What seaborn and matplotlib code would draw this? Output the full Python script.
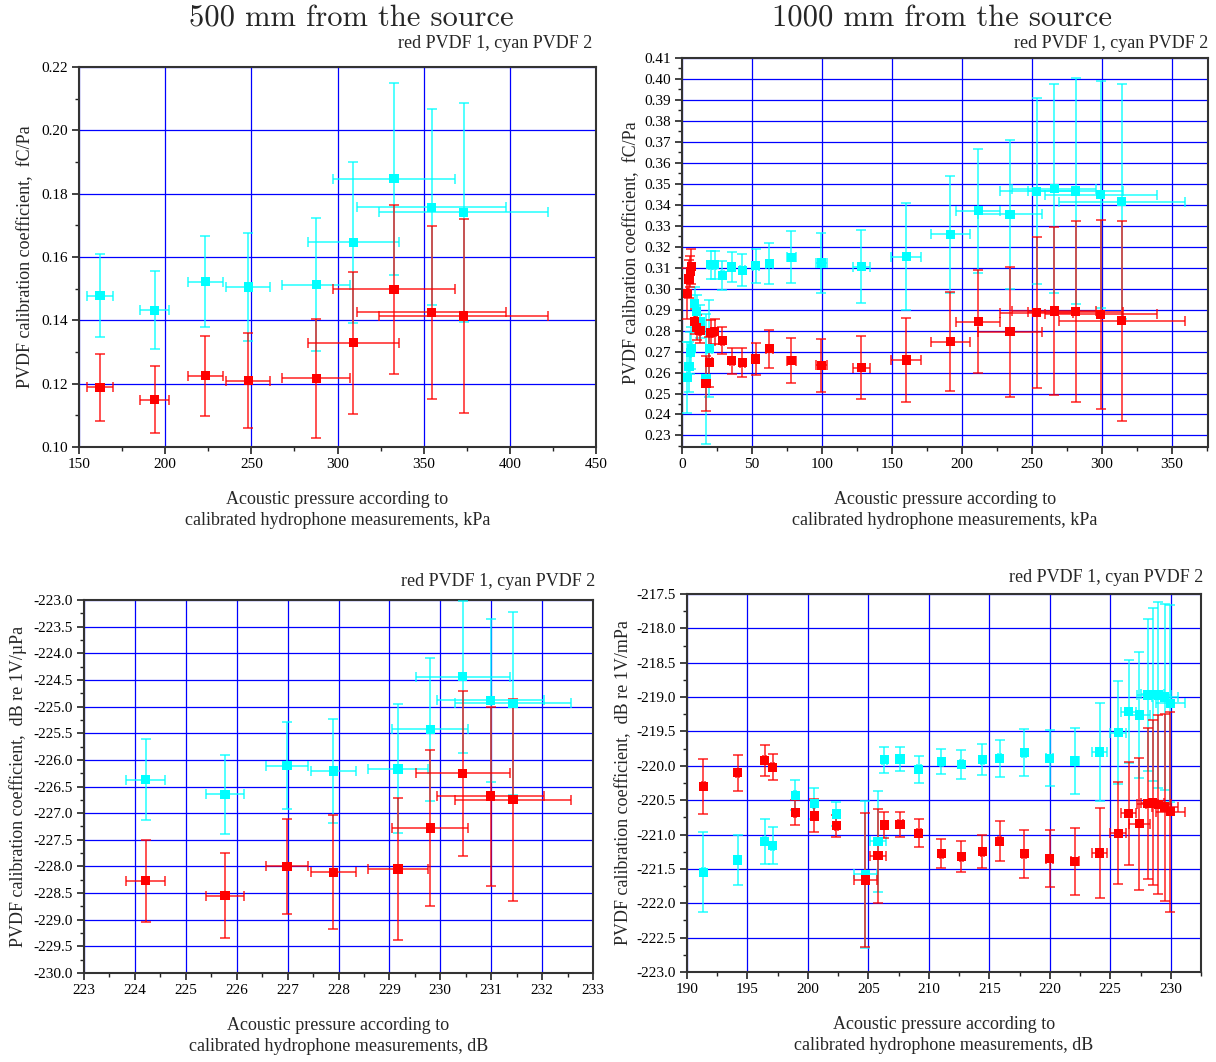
import matplotlib
matplotlib.use("Agg")
import matplotlib.pyplot as plt
from matplotlib.ticker import MultipleLocator, FormatStrFormatter
import seaborn as sns

# ---- 500 mm from the source, kPa / fC/Pa ----
p500_kpa = [162.2, 194.0, 223.4, 248.2, 287.6, 309.2, 332.8, 354.6, 373.2]
p500_kpa_err = [7.4, 8.5, 10.4, 12.8, 19.6, 26.5, 35.2, 43.3, 49.2]
red500 = [0.1188, 0.1149, 0.1225, 0.1209, 0.1217, 0.1329, 0.1498, 0.1425, 0.1414]
red500_err = [0.0105, 0.0106, 0.0126, 0.0150, 0.0187, 0.0225, 0.0267, 0.0274, 0.0307]
cyan500 = [0.1478, 0.1432, 0.1522, 0.1505, 0.1513, 0.1646, 0.1847, 0.1757, 0.1741]
cyan500_err = [0.0130, 0.0123, 0.0144, 0.0170, 0.0211, 0.0255, 0.0304, 0.0310, 0.0345]

# ---- 1000 mm from the source, kPa / fC/Pa ----
p1000_kpa = [3.8, 5.0, 6.0, 6.7, 9.0, 10.5, 12.9, 17.1, 19.5, 20.5, 23.5, 28.8, 35.5, 43.1,
             52.8, 62.4, 78.2, 99.7, 128.2, 160.2, 191.7, 211.7, 234.5, 253.6, 266.0,
             281.4, 299.3, 314.3]
p1000_kpa_err = [0.2, 0.25, 0.3, 0.3, 0.4, 0.5, 0.6, 2.0, 1.6, 0.9, 1.0, 1.2, 1.5, 1.8,
                 2.2, 2.6, 3.2, 3.9, 6.0, 11.0, 14.0, 15.5, 22.6, 26.0, 30.0, 34.0, 40.0, 45.0]
red1000 = [0.2977, 0.3046, 0.3082, 0.3105, 0.2845, 0.2815, 0.2799, 0.2548, 0.2649, 0.2790,
           0.2795, 0.2752, 0.2657, 0.2647, 0.2665, 0.2713, 0.2657, 0.2634, 0.2623, 0.2660,
           0.2748, 0.2843, 0.2795, 0.2886, 0.2894, 0.2891, 0.2878, 0.2848]
red1000_err = [0.012, 0.009, 0.0075, 0.0085, 0.006, 0.006, 0.006, 0.013, 0.012, 0.006,
               0.006, 0.0063, 0.0062, 0.0068, 0.0075, 0.009, 0.0107, 0.0128, 0.015, 0.0202,
               0.0234, 0.0246, 0.031, 0.036, 0.040, 0.043, 0.045, 0.0477]
cyan1000 = [0.2577, 0.2628, 0.2695, 0.2715, 0.2929, 0.2891, 0.2843, 0.2569, 0.2714, 0.3114,
            0.3114, 0.3063, 0.3103, 0.3087, 0.3109, 0.3120, 0.3150, 0.3122, 0.3105, 0.3152,
            0.3259, 0.3372, 0.3355, 0.3465, 0.3477, 0.3466, 0.3449, 0.3415]
cyan1000_err = [0.017, 0.012, 0.010, 0.010, 0.008, 0.008, 0.008, 0.031, 0.023, 0.0066,
                0.0066, 0.007, 0.007, 0.0076, 0.008, 0.0097, 0.0123, 0.0145, 0.0173, 0.0255,
                0.028, 0.0296, 0.0355, 0.0442, 0.050, 0.054, 0.054, 0.056]

# ---- 500 mm, dB / dB re 1V/uPa ----
p500_db = [224.21, 225.77, 226.99, 227.90, 229.17, 229.80, 230.44, 230.99, 231.43]
p500_db_err = [0.39, 0.38, 0.41, 0.45, 0.59, 0.75, 0.92, 1.05, 1.14]
red500_db = [-228.27, -228.55, -228.00, -228.11, -228.05, -227.28, -226.25, -226.68, -226.75]
red500_db_err = [0.77, 0.80, 0.89, 1.07, 1.33, 1.47, 1.55, 1.68, 1.89]
cyan500_db = [-226.37, -226.65, -226.11, -226.21, -226.17, -225.43, -224.44, -224.88, -224.94]
cyan500_db_err = [0.76, 0.75, 0.82, 0.98, 1.21, 1.34, 1.43, 1.53, 1.72]

# ---- 1000 mm, dB / dB re 1V/mPa ----
p1000_db = [191.35, 194.18, 196.41, 197.07, 198.95, 200.51, 202.36, 204.73, 205.80, 206.32,
            207.62, 209.16, 211.04, 212.69, 214.42, 215.85, 217.89, 219.98, 222.07, 224.11,
            225.65, 226.51, 227.39, 228.10, 228.51, 228.98, 229.51, 229.95]
p1000_db_err = [0.1, 0.1, 0.1, 0.1, 0.1, 0.1, 0.1, 0.96, 0.69, 0.2, 0.2, 0.15, 0.15, 0.15,
                0.15, 0.15, 0.15, 0.3, 0.35, 0.6, 0.66, 0.62, 0.88, 0.88, 0.95, 1.0, 1.1, 1.2]
red1000_db = [-220.30, -220.10, -219.92, -220.02, -220.68, -220.73, -220.87, -221.66, -221.31,
              -220.86, -220.85, -220.98, -221.28, -221.32, -221.25, -221.10, -221.28, -221.35,
              -221.39, -221.27, -220.98, -220.69, -220.84, -220.55, -220.54, -220.56, -220.60,
              -220.67]
red1000_db_err = [0.40, 0.26, 0.23, 0.19, 0.18, 0.24, 0.16, 0.97, 0.68, 0.19, 0.18, 0.20, 0.21,
                  0.23, 0.24, 0.29, 0.35, 0.42, 0.49, 0.66, 0.74, 0.75, 0.96, 1.10, 1.20, 1.30,
                  1.36, 1.45]
cyan1000_db = [-221.55, -221.37, -221.10, -221.16, -220.43, -220.55, -220.70, -221.58, -221.10,
               -219.91, -219.90, -220.05, -219.94, -219.98, -219.91, -219.89, -219.81, -219.89,
               -219.93, -219.80, -219.52, -219.21, -219.26, -218.97, -218.96, -218.97, -219.00,
               -219.09]
cyan1000_db_err = [0.58, 0.37, 0.33, 0.27, 0.22, 0.23, 0.17, 1.07, 0.73, 0.19, 0.17, 0.20, 0.18,
                   0.21, 0.23, 0.27, 0.34, 0.41, 0.48, 0.71, 0.75, 0.75, 0.92, 1.11, 1.26, 1.35,
                   1.35, 1.43]

sns.set_theme(style="white")
plt.rcParams['font.family'] = ['Liberation Serif', 'DejaVu Serif']
plt.rcParams['axes.unicode_minus'] = False

W, H = 1216, 1062
fig = plt.figure(figsize=(W / 100, H / 100), dpi=100)


def px_axes(left, top, right, bottom):
    return fig.add_axes([left / W, 1 - bottom / H, (right - left) / W, (bottom - top) / H])


def draw_panel(ax, x, xerr, red, red_err, cyan, cyan_err):
    for y, yerr, color in ((cyan, cyan_err, '#00ffff'), (red, red_err, '#ff0000')):
        ax.errorbar(x, y, xerr=xerr, yerr=yerr, fmt='none', ecolor=color, elinewidth=1.2,
                    capsize=3.5, capthick=1.2, alpha=0.8, zorder=3)
        sns.scatterplot(x=x, y=y, ax=ax, marker='s', s=44, color=color, edgecolor='none',
                        zorder=4, legend=False)


def style_axes(ax, xlim, ylim, xmaj, xmin, ymaj, ymin, yfmt, xlabel, ylabel, ylabelpad):
    ax.set_xlim(*xlim)
    ax.set_ylim(*ylim)
    ax.xaxis.set_major_locator(MultipleLocator(xmaj))
    ax.xaxis.set_minor_locator(MultipleLocator(xmin))
    ax.yaxis.set_major_locator(MultipleLocator(ymaj))
    ax.yaxis.set_minor_locator(MultipleLocator(ymin))
    ax.xaxis.set_major_formatter(FormatStrFormatter('%.0f'))
    ax.yaxis.set_major_formatter(FormatStrFormatter(yfmt))
    ax.set_axisbelow(True)
    ax.grid(True, which='major', color='#0000ff', linewidth=0.9)
    for s in ax.spines.values():
        s.set_color('#333333')
        s.set_linewidth(1.5)
    ax.tick_params(which='both', direction='out', bottom=True, left=True, top=False,
                   right=False, colors='#222222', labelsize=11, labelcolor='black')
    ax.tick_params(which='major', length=5, width=1.2, pad=3)
    ax.tick_params(which='minor', length=3, width=1.0)
    ax.set_xlabel(xlabel, fontsize=13, labelpad=14, linespacing=1.35)
    ax.set_ylabel(ylabel, fontsize=13, labelpad=ylabelpad)


xl_kpa = "Acoustic pressure according to\ncalibrated hydrophone measurements, kPa"
xl_db = "Acoustic pressure according to\ncalibrated hydrophone measurements, dB"

ax1 = px_axes(79, 67, 596, 447)
draw_panel(ax1, p500_kpa, p500_kpa_err, red500, red500_err, cyan500, cyan500_err)
style_axes(ax1, (150, 450), (0.10, 0.22), 50, 25, 0.02, 0.01, '%.2f', xl_kpa,
           "PVDF calibration coefficient,  fC/Pa", 5)

ax2 = px_axes(682, 58, 1208, 447)
draw_panel(ax2, p1000_kpa, p1000_kpa_err, red1000, red1000_err, cyan1000, cyan1000_err)
style_axes(ax2, (0, 376), (0.2245, 0.41), 50, 25, 0.01, 0.005, '%.2f', xl_kpa,
           "PVDF calibration coefficient,  fC/Pa", 3)

ax3 = px_axes(84, 600, 593, 973)
draw_panel(ax3, p500_db, p500_db_err, red500_db, red500_db_err, cyan500_db, cyan500_db_err)
style_axes(ax3, (223, 233), (-230, -223), 1, 0.5, 0.5, 0.25, '%.1f', xl_db,
           "PVDF calibration coefficient,  dB re 1V/\u00b5Pa", 5)

ax4 = px_axes(687, 594, 1201, 972)
draw_panel(ax4, p1000_db, p1000_db_err, red1000_db, red1000_db_err, cyan1000_db, cyan1000_db_err)
style_axes(ax4, (190, 232.5), (-223, -217.5), 5, 2.5, 0.5, 0.25, '%.1f', xl_db,
           "PVDF calibration coefficient,  dB re 1V/mPa", 3)

# titles and series notes
fig.text(351 / W, 1 - 19 / H, "500 mm from the source", ha='center', va='center',
         fontsize=22, family=['cmr10', 'DejaVu Serif'])
fig.text(942 / W, 1 - 19 / H, "1000 mm from the source", ha='center', va='center',
         fontsize=22, family=['cmr10', 'DejaVu Serif'])
for xr, yc in ((592, 44), (1208, 44), (595, 581), (1203, 577)):
    fig.text(xr / W, 1 - yc / H, "red PVDF 1, cyan PVDF 2", ha='right', va='center', fontsize=13)

fig.savefig("out.png", dpi=100)
